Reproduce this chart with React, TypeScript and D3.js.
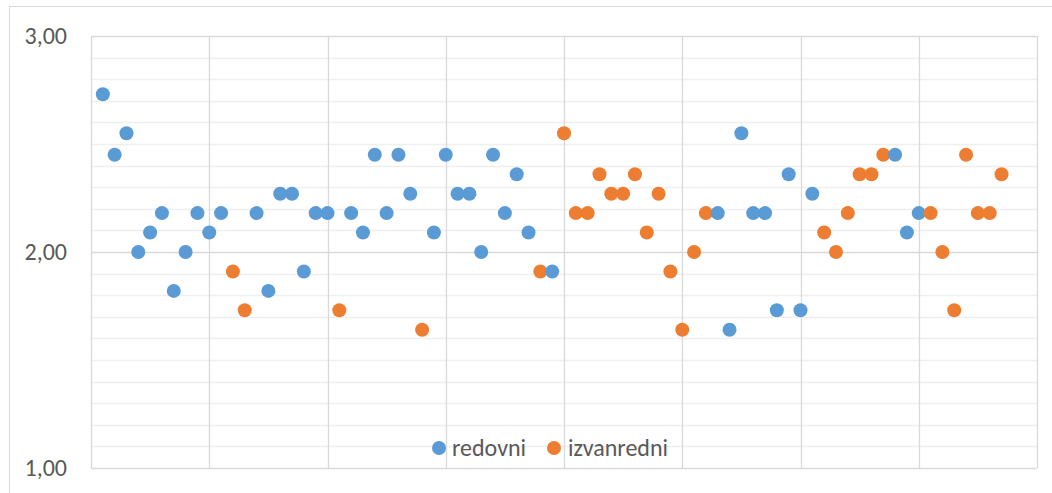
import { useEffect, useRef } from "react";
import * as d3 from "d3";

const WIDTH = 1052;
const HEIGHT = 493;
const PLOT = { left: 91, right: 1037, top: 36, bottom: 468 };
const FONT = "Carlito, Calibri, Lato, sans-serif";
const TEXT_COLOR = "#595959";
const COLORS = { redovni: "#5B9BD5", izvanredni: "#ED7D31" };

// x position (student index) and average grade for each series
const redovniX = [
  1, 2, 3, 4, 5, 6, 7, 8, 9, 10, 11, 14, 15, 16, 17, 18, 19, 20, 22, 23, 24,
  25, 26, 27, 29, 30, 31, 32, 33, 34, 35, 36, 37, 39, 53, 54, 55, 56, 57, 58,
  59, 60, 61, 68, 69, 70,
];
const redovniY = [
  2.73, 2.45, 2.55, 2.0, 2.09, 2.18, 1.82, 2.0, 2.18, 2.09, 2.18, 2.18, 1.82,
  2.27, 2.27, 1.91, 2.18, 2.18, 2.18, 2.09, 2.45, 2.18, 2.45, 2.27, 2.09, 2.45,
  2.27, 2.27, 2.0, 2.45, 2.18, 2.36, 2.09, 1.91, 2.18, 1.64, 2.55, 2.18, 2.18,
  1.73, 2.36, 1.73, 2.27, 2.45, 2.09, 2.18,
];
const izvanredniX = [
  12, 13, 21, 28, 38, 40, 41, 42, 43, 44, 45, 46, 47, 48, 49, 50, 51, 52, 62,
  63, 64, 65, 66, 67, 71, 72, 73, 74, 75, 76, 77,
];
const izvanredniY = [
  1.91, 1.73, 1.73, 1.64, 1.91, 2.55, 2.18, 2.18, 2.36, 2.27, 2.27, 2.36, 2.09,
  2.27, 1.91, 1.64, 2.0, 2.18, 2.09, 2.0, 2.18, 2.36, 2.36, 2.45, 2.18, 2.0,
  1.73, 2.45, 2.18, 2.18, 2.36,
];

const xTicks = [0, 10, 20, 30, 40, 50, 60, 70, 80];
const yLabels = [1, 2, 3];

type Pt = { x: number; y: number; series: "redovni" | "izvanredni" };

export default function App() {
  const svgRef = useRef<SVGSVGElement | null>(null);

  useEffect(() => {
    if (!svgRef.current) return;
    const svg = d3.select(svgRef.current);
    svg.selectAll("*").remove();

    const x = d3.scaleLinear().domain([0, 80]).range([PLOT.left, PLOT.right]);
    const y = d3.scaleLinear().domain([1, 3]).range([PLOT.bottom, PLOT.top]);

    // outer chart frame (runs off the right and bottom edge)
    svg
      .append("rect")
      .attr("x", 9.5)
      .attr("y", 6.5)
      .attr("width", WIDTH + 20)
      .attr("height", HEIGHT + 20)
      .attr("fill", "#fff")
      .attr("stroke", "#d9d9d9");

    // minor horizontal gridlines every 0.1
    const minor = d3.range(11, 30).map((v) => v / 10).filter((v) => Math.abs(v - 2) > 1e-6);
    svg
      .append("g")
      .selectAll("line")
      .data(minor)
      .enter()
      .append("line")
      .attr("x1", PLOT.left)
      .attr("x2", PLOT.right)
      .attr("y1", (d) => Math.round(y(d)) + 0.5)
      .attr("y2", (d) => Math.round(y(d)) + 0.5)
      .attr("stroke", "#efefef")
      .attr("stroke-width", 1.4);

    // major horizontal gridlines
    svg
      .append("g")
      .selectAll("line")
      .data(yLabels)
      .enter()
      .append("line")
      .attr("x1", PLOT.left)
      .attr("x2", PLOT.right)
      .attr("y1", (d) => Math.round(y(d)) + 0.5)
      .attr("y2", (d) => Math.round(y(d)) + 0.5)
      .attr("stroke", "#d9d9d9")
      .attr("stroke-width", 1.3);

    // vertical gridlines
    svg
      .append("g")
      .selectAll("line")
      .data(xTicks)
      .enter()
      .append("line")
      .attr("x1", (d) => Math.round(x(d)) + 0.5)
      .attr("x2", (d) => Math.round(x(d)) + 0.5)
      .attr("y1", PLOT.top)
      .attr("y2", PLOT.bottom)
      .attr("stroke", "#d9d9d9")
      .attr("stroke-width", 1.3);

    // y labels
    svg
      .append("g")
      .selectAll("text")
      .data(yLabels)
      .enter()
      .append("text")
      .attr("x", 67)
      .attr("y", (d) => y(d))
      .attr("dy", "0.35em")
      .attr("text-anchor", "end")
      .attr("fill", TEXT_COLOR)
      .style("font-family", FONT)
      .style("font-size", "24px")
      .text((d) => d3.format(".2f")(d).replace(".", ","));

    // points, drawn left to right so later indices sit on top
    const pts: Pt[] = [
      ...redovniX.map((v, i) => ({ x: v, y: redovniY[i], series: "redovni" as const })),
      ...izvanredniX.map((v, i) => ({ x: v, y: izvanredniY[i], series: "izvanredni" as const })),
    ].sort((a, b) => a.x - b.x);

    svg
      .append("g")
      .selectAll("circle")
      .data(pts)
      .enter()
      .append("circle")
      .attr("cx", (d) => x(d.x))
      .attr("cy", (d) => y(d.y))
      .attr("r", 7)
      .attr("fill", (d) => COLORS[d.series]);

    // legend
    const legend = svg.append("g");
    const items = [
      { name: "redovni", cx: 439, tx: 452 },
      { name: "izvanredni", cx: 554, tx: 568 },
    ] as const;
    items.forEach((it) => {
      legend
        .append("circle")
        .attr("cx", it.cx)
        .attr("cy", 448)
        .attr("r", 7)
        .attr("fill", COLORS[it.name]);
      legend
        .append("text")
        .attr("x", it.tx)
        .attr("y", 448)
        .attr("dy", "0.35em")
        .attr("fill", TEXT_COLOR)
        .style("font-family", FONT)
        .style("font-size", "24px")
        .text(it.name);
    });
  }, []);

  return (
    <svg
      ref={svgRef}
      width={WIDTH}
      height={HEIGHT}
      style={{ position: "absolute", left: 0, top: 0, background: "#fff" }}
    />
  );
}
